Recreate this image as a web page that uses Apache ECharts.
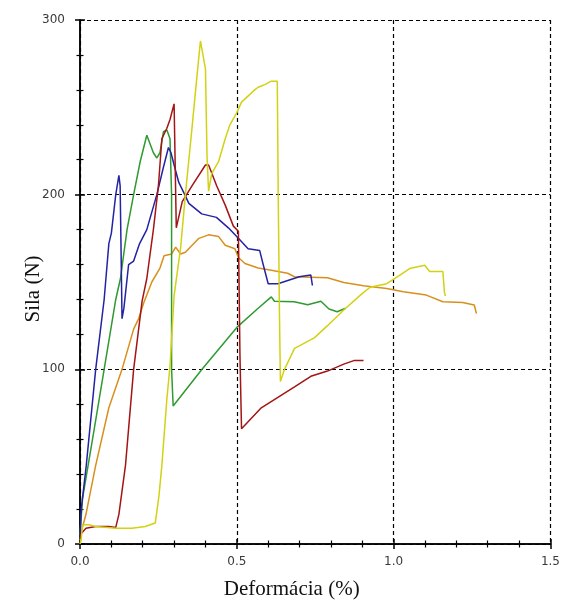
<!DOCTYPE html>
<html>
<head>
<meta charset="utf-8">
<script src="https://cdn.jsdelivr.net/npm/echarts@6/dist/echarts.min.js"></script>
<style>
  html, body { margin: 0; padding: 0; background: #ffffff; }
  #chart { width: 563px; height: 605px; }
</style>
</head>
<body>
<div id="chart"></div>
<script>
// Force–strain curves of five specimens: [deformation %, force N]
const specimenBlue = [
  [0,3],[0.004,20],[0.02,45],[0.05,100],[0.077,140],[0.092,172],[0.1,178],[0.114,200],
  [0.124,211],[0.128,205],[0.134,129],[0.14,135],[0.155,160],[0.171,162],[0.19,172],
  [0.213,180],[0.245,200],[0.265,215],[0.282,227],[0.29,224],[0.303,215],[0.315,207],
  [0.334,200],[0.347,195],[0.388,189],[0.435,187],[0.473,181],[0.505,175],[0.536,169],
  [0.573,168],[0.584,160],[0.6,149],[0.631,149],[0.699,153],[0.736,154],[0.741,148]
];
const specimenGreen = [
  [0,5],[0.008,26],[0.04,60],[0.077,100],[0.114,140],[0.129,152],[0.15,180],[0.171,200],
  [0.192,219],[0.213,234],[0.219,235],[0.234,224],[0.245,221],[0.255,224],[0.266,236],
  [0.277,237],[0.287,232],[0.292,200],[0.292,100],[0.297,79],[0.389,100],[0.5,124],
  [0.568,135],[0.61,141.5],[0.62,139],[0.683,138.7],[0.726,137],[0.768,139],[0.794,134.5],
  [0.82,133],[0.847,135]
];
const specimenRed = [
  [0,3],[0.004,6],[0.019,9],[0.05,10],[0.092,10],[0.114,9.5],[0.124,17],[0.145,45],
  [0.171,100],[0.198,139],[0.213,152],[0.234,180],[0.25,205],[0.261,232],[0.277,238],
  [0.287,243],[0.3,252],[0.307,181],[0.326,196],[0.357,205],[0.4,217],[0.41,217],
  [0.436,205],[0.463,194],[0.489,182],[0.505,179],[0.51,108],[0.515,66],[0.52,67],
  [0.578,78],[0.631,84],[0.684,90],[0.736,96],[0.789,99],[0.841,103],[0.873,105],[0.904,105]
];
const specimenYellow = [
  [0,0],[0.004,3],[0.008,11],[0.029,11],[0.05,10],[0.114,9],[0.166,9],[0.208,10],[0.24,12],
  [0.252,28],[0.261,45],[0.277,83],[0.287,102],[0.3,142],[0.321,170],[0.336,200],[0.357,238],
  [0.373,268],[0.384,288],[0.389,288],[0.4,272],[0.405,222],[0.41,202],[0.42,212],[0.442,219],
  [0.463,232],[0.478,240],[0.5,247],[0.515,253],[0.557,260],[0.568,261.5],[0.589,263],
  [0.61,265],[0.629,265],[0.632,200],[0.636,131],[0.639,93],[0.652,100],[0.684,112],
  [0.747,118],[0.789,125],[0.841,134],[0.894,142.5],[0.925,147],[0.978,149],[1.02,154],
  [1.051,157.7],[1.099,159.6],[1.115,156],[1.157,156],[1.162,144],[1.165,142]
];
const specimenOrange = [
  [0,2],[0.004,7],[0.019,17],[0.05,45],[0.092,78],[0.134,100],[0.171,123],[0.187,129],
  [0.203,138],[0.229,150],[0.255,158],[0.268,165],[0.292,166],[0.305,170],[0.321,166],
  [0.336,167],[0.379,175],[0.41,177],[0.442,176],[0.463,171],[0.494,169],[0.505,164],
  [0.526,160.6],[0.568,158],[0.61,156.7],[0.662,155],[0.684,153],[0.789,152.4],[0.841,149.7],
  [0.904,147.8],[0.978,146.3],[1.031,144.4],[1.104,142.5],[1.157,138.7],[1.22,138.3],
  [1.257,136.8],[1.264,132]
];

// Axis ranges and tick labels
const xTicks = [0.0, 0.5, 1.0, 1.5];
const yTicks = [0, 100, 200, 300];

const xMin = xTicks[0], xMax = xTicks[xTicks.length - 1], xStep = xTicks[1] - xTicks[0];
const yMin = yTicks[0], yMax = yTicks[yTicks.length - 1], yStep = yTicks[1] - yTicks[0];

const chart = echarts.init(document.getElementById('chart'), null, { renderer: 'canvas' });

const axisBlack = '#000000';
const labelFont = { color: '#3a3a3a', fontFamily: 'DejaVu Sans', fontSize: 12 };
const nameFont = { color: '#111111', fontFamily: 'Liberation Serif', fontSize: 21 };
const gridDash = { show: true, lineStyle: { color: '#000000', type: [4, 3], width: 1.2 } };

function line(name, data, color) {
  return {
    name, type: 'line', data,
    xAxisIndex: 0, yAxisIndex: 0,
    showSymbol: false, symbol: 'none',
    lineStyle: { color, width: 1.5 },
    animation: false, z: 3
  };
}

// Tick marks cross the axis line: one axis draws them outward, its twin inward.
function ticks(inside) {
  return {
    axisTick: { show: true, inside, length: 5, lineStyle: { color: axisBlack, width: 1.5 } },
    minorTick: { show: true, splitNumber: 5, length: 3.5, lineStyle: { color: axisBlack, width: 1.2 } }
  };
}

chart.setOption({
  animation: false,
  backgroundColor: '#ffffff',
  grid: { left: 80, top: 20, right: 8, bottom: 59, containLabel: false },
  xAxis: [
    Object.assign({
      type: 'value', min: xMin, max: xMax, interval: xStep, position: 'bottom',
      name: 'Deformácia (%)', nameLocation: 'middle', nameGap: 35, nameMoveOverlap: false,
      nameTextStyle: Object.assign({ padding: [0, 47, 0, 0] }, nameFont),
      axisLine: { show: true, onZero: false, lineStyle: { color: axisBlack, width: 1.5 } },
      axisLabel: Object.assign({ margin: 12, formatter: v => v.toFixed(1) }, labelFont),
      splitLine: gridDash
    }, ticks(false)),
    Object.assign({
      type: 'value', min: xMin, max: xMax, interval: xStep, position: 'bottom',
      axisLine: { show: true, onZero: false, lineStyle: { color: axisBlack, width: 1.5 } },
      axisLabel: { show: false },
      splitLine: { show: false }
    }, ticks(true))
  ],
  yAxis: [
    Object.assign({
      type: 'value', min: yMin, max: yMax, interval: yStep, position: 'left',
      name: 'Sila (N)', nameLocation: 'middle', nameGap: 36, nameMoveOverlap: false,
      nameTextStyle: Object.assign({ padding: [0, 14, 0, 0] }, nameFont),
      axisLine: { show: true, onZero: false, lineStyle: { color: axisBlack, width: 1.5 } },
      axisLabel: Object.assign({ margin: 15 }, labelFont),
      splitLine: gridDash
    }, ticks(false)),
    Object.assign({
      type: 'value', min: yMin, max: yMax, interval: yStep, position: 'left',
      axisLine: { show: true, onZero: false, lineStyle: { color: axisBlack, width: 1.5 } },
      axisLabel: { show: false },
      splitLine: { show: false }
    }, ticks(true))
  ],
  series: [
    line('Orange', specimenOrange, '#d8901c'),
    line('Green', specimenGreen, '#2f9a2f'),
    line('Blue', specimenBlue, '#2323a3'),
    line('Red', specimenRed, '#a31515'),
    line('Yellow', specimenYellow, '#d2d214')
  ]
});
</script>
</body>
</html>
